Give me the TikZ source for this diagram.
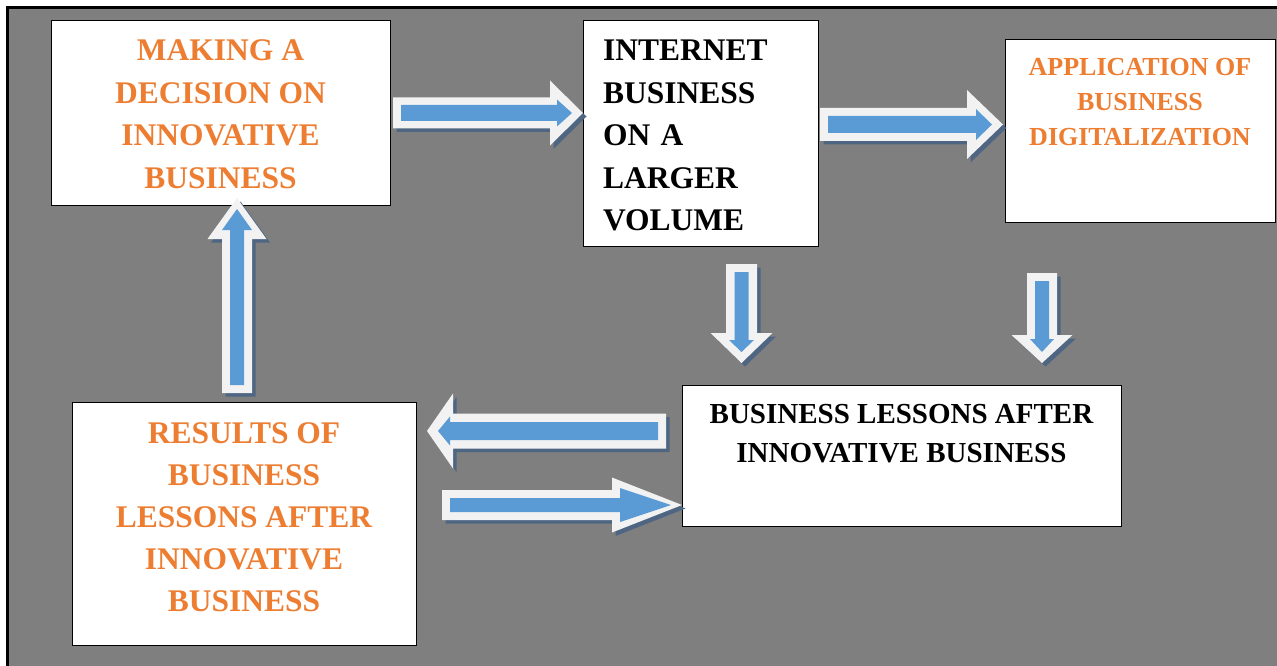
\documentclass[tikz,border=0pt]{standalone}
\usepackage{fontspec}
\setmainfont{Liberation Serif}
\usetikzlibrary{positioning, calc}

\definecolor{canvasgray}{HTML}{7F7F7F}
\definecolor{titleorange}{HTML}{ED7D31}
\definecolor{arrowblue}{HTML}{5B9BD5}
\definecolor{arrowwhite}{HTML}{F2F2F2}
\definecolor{arrowdark}{HTML}{4F6683}

% start, tip, half shaft, half head, head length, style
\newcommand\arrowshape[6]{%
  \coordinate (hb) at ($(#2)!#5pt!(#1)$);
  \fill[#6] ($(#1)!#3pt!90:(#2)$) -- ($(hb)!#3pt!-90:(#1)$) -- ($(hb)!#4pt!-90:(#1)$)
    -- (#2) -- ($(hb)!#4pt!90:(#1)$) -- ($(hb)!#3pt!90:(#1)$) -- ($(#1)!#3pt!-90:(#2)$) -- cycle;}

% outer: start, tip, half shaft, half head, head length; inner: half shaft, half head, head length
\newcommand\blockarrow[8]{%
  \arrowshape{#1}{#2}{#3}{#4}{#5}{arrowshadow}
  \arrowshape{#1}{#2}{#3}{#4}{#5}{arrowrim}
  \coordinate (ins) at ($(#1)!8pt!(#2)$);
  \coordinate (ine) at ($(#2)!11pt!(#1)$);
  \arrowshape{ins}{ine}{#6}{#7}{#8}{arrowfill}}

\begin{document}
\begin{tikzpicture}[x=1pt, y=-1pt, line join=miter]

  \tikzstyle{box}=[draw=black, fill=white, line width=1pt, inner sep=0pt, outer sep=0pt]
  \tikzstyle{boxtext}=[inner sep=0pt, font=\bfseries\fontsize{31.5}{42.5}\selectfont]
  \tikzstyle{orangetext}=[boxtext, text=titleorange, align=center]
  \tikzstyle{blacktext}=[boxtext, text=black]
  \tikzstyle{arrowshadow}=[fill=arrowdark, transform canvas={shift={(3.5pt,-3.5pt)}}]
  \tikzstyle{arrowrim}=[fill=arrowwhite]
  \tikzstyle{arrowfill}=[fill=arrowblue]

  \useasboundingbox (0,0) rectangle (1277,666);
  \fill[canvasgray] (8,8) rectangle (1277,666);
  \draw[line width=2.5pt] (7.5,666) -- (7.5,7.5) -- (1277,7.5);

  \node[box, minimum width=339pt, minimum height=184pt] (decision) at (220.5,113) {};
  \node[orangetext] (decisiontitle) [below=18.9pt of decision.north]
    {MAKING A\\DECISION ON\\INNOVATIVE\\BUSINESS};
  \node[box, minimum width=235pt, minimum height=225pt]
    (volume) [below right=0pt and 193pt of decision.north east] {};
  \node[blacktext, align=left, text width=195pt] (volumetitle) [below=18.9pt of volume.north]
    {INTERNET\\BUSINESS\\ON A\\LARGER\\VOLUME};
  \node[box, minimum width=270pt, minimum height=182pt] (digital) [below right=19pt and 187pt of volume.north east] {};
  \node[orangetext, font=\bfseries\fontsize{26}{35}\selectfont] (digitaltitle) [below=17.9pt of digital.north]
    {APPLICATION OF\\BUSINESS\\DIGITALIZATION};
  \node[box, minimum width=439pt, minimum height=141pt] (lessons) [below right=139pt and 99pt of volume.south west] {};
  \node[blacktext, align=center, font=\bfseries\fontsize{29}{39}\selectfont] (lessonstitle) [below=18.9pt of lessons.north]
    {BUSINESS LESSONS AFTER\\INNOVATIVE BUSINESS};
  \node[box, minimum width=344pt, minimum height=243pt] (results) [below right=197pt and 21pt of decision.south west] {};
  \node[orangetext, font=\bfseries\fontsize{31.5}{42}\selectfont] (resultstitle) [below=20pt of results.north]
    {RESULTS OF\\BUSINESS\\LESSONS AFTER\\INNOVATIVE\\BUSINESS};

  % arrow ends
  \coordinate (a1s) at ($(decision.east)+(3,0)$);
  \coordinate (a1e) at (volume.west |- a1s);
  \coordinate (a2s) at ($(volume.east)+(2,-9)$);
  \coordinate (a2e) at ($(digital.west |- a2s)+(-2,0)$);
  \coordinate (a3s) at ($(volume.south)+(41,18)$);
  \coordinate (a3e) at ($(a3s |- lessons.north)+(0,-22)$);
  \coordinate (a4s) at ($(digital.south)+(-98,51)$);
  \coordinate (a4e) at ($(a4s |- lessons.north)+(0,-22)$);
  \coordinate (a5s) at ($(lessons.west)+(-16,-24.5)$);
  \coordinate (a5e) at ($(results.east |- a5s)+(11,0)$);
  \coordinate (a6s) at ($(results.east)+(26,-18.5)$);
  \coordinate (a6e) at (lessons.west |- a6s);
  \coordinate (a7s) at ($(results.north)+(-7,-9)$);
  \coordinate (a7e) at ($(a7s |- decision.south)+(0,-7)$);

  \blockarrow{a1s}{a1e}{15.5}{32.5}{33}{8}{13.5}{15}
  \blockarrow{a2s}{a2e}{16.5}{34.5}{36}{8.5}{15.5}{16}
  \blockarrow{a3s}{a3e}{15.5}{31}{30}{7}{12.5}{12}
  \blockarrow{a4s}{a4e}{15}{30.5}{28}{7}{12}{13}
  \blockarrow{a5s}{a5e}{17.5}{37.5}{26}{9}{14.5}{12}
  \blockarrow{a6s}{a6e}{15}{27.5}{70}{7}{17}{51}
  \blockarrow{a7s}{a7e}{15}{29.5}{41}{7}{15}{21}

\end{tikzpicture}
\end{document}
